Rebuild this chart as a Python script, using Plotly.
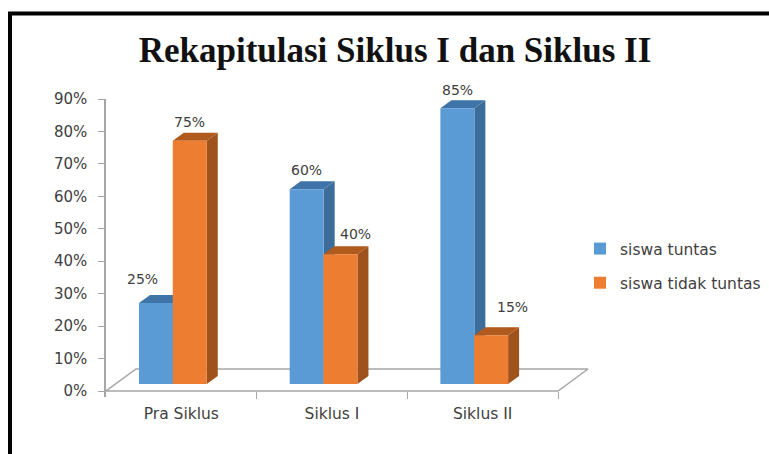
import plotly.graph_objects as go

categories = ["Pra Siklus", "Siklus I", "Siklus II"]
tuntas = [25, 60, 85]
tidak_tuntas = [75, 40, 15]
y_ticks = [0, 10, 20, 30, 40, 50, 60, 70, 80, 90]
y_tick_labels = ["0%", "10%", "20%", "30%", "40%", "50%", "60%", "70%", "80%", "90%"]

W, H = 769, 454
TEXT = "#404040"
GRID = "#a6a6a6"
SANS = "DejaVu Sans"

# pixel frame of the value axis and the category axis
x0_px, unit_px = 106, 150.67
y0_px, y90_px = 391, 99
per_pct = (y0_px - y90_px) / 90
x_end = 3.25
y_low = -2

# pseudo-3D geometry, in data units
lift = 7 / per_pct
depth_x = 11 / unit_px
depth_y = 8 / per_pct
bar_w = 34 / unit_px
floor_dx = 30 / unit_px
floor_dy = 22 / per_pct
centers_a = [i + 0.332 for i in range(3)]
centers_b = [i + 0.556 for i in range(3)]

x_dom = [x0_px / W, (x0_px + x_end * unit_px) / W]
y_dom = [1 - (y0_px - y_low * per_pct) / H, 1 - y90_px / H]


def depth_faces(centers, values):
    side_x, side_y, top_x, top_y = [], [], [], []
    for c, v in zip(centers, values):
        right, left, high = c + bar_w / 2, c - bar_w / 2, v + lift
        side_x += [right, right + depth_x, right + depth_x, right, right, None]
        side_y += [lift, lift + depth_y, high + depth_y, high, lift, None]
        top_x += [left, left + depth_x, right + depth_x, right, left, None]
        top_y += [high, high + depth_y, high + depth_y, high, high, None]
    return side_x, side_y, top_x, top_y


fig = go.Figure()

# floor outline behind the bars
fig.add_trace(go.Scatter(
    x=[0, floor_dx, 3 + floor_dx, 3, 0],
    y=[0, floor_dy, floor_dy, 0, 0],
    mode="lines", line=dict(color=GRID, width=1.5),
    showlegend=False, hoverinfo="skip",
))

for centers, values, side, top in [
    (centers_a, tuntas, "#3c6c99", "#3f74a8"),
    (centers_b, tidak_tuntas, "#a0521c", "#b05a1e"),
]:
    sx, sy, tx, ty = depth_faces(centers, values)
    for fx, fy, colour in [(sx, sy, side), (tx, ty, top)]:
        fig.add_trace(go.Scatter(
            x=fx, y=fy, mode="lines", fill="toself", fillcolor=colour,
            line=dict(width=0, color=colour), showlegend=False, hoverinfo="skip",
        ))

# front faces sit on an overlaid pair of axes so they cover the depth faces
for name, centers, values, colour in [
    ("siswa tuntas", centers_a, tuntas, "#5b9bd5"),
    ("siswa tidak tuntas", centers_b, tidak_tuntas, "#ed7d31"),
]:
    fig.add_trace(go.Bar(
        x=centers, y=values, base=lift, width=bar_w, name=name,
        marker=dict(color=colour, line=dict(width=0)),
        xaxis="x2", yaxis="y2", legendgroup=name,
    ))

# value labels, nudged clear of the neighbouring bars
label_shift = [(-14, 24), (0, 19), (0, 19), (15, 20), (0, 18), (21, 28)]
points = [
    (centers_a[0], tuntas[0]), (centers_b[0], tidak_tuntas[0]),
    (centers_a[1], tuntas[1]), (centers_b[1], tidak_tuntas[1]),
    (centers_a[2], tuntas[2]), (centers_b[2], tidak_tuntas[2]),
]
annotations = [
    dict(x=px, y=v + lift, xref="x", yref="y", text=f"{v}%", showarrow=False,
         xshift=sx, yshift=sy, xanchor="center", yanchor="middle",
         font=dict(family=SANS, size=14, color=TEXT))
    for (px, v), (sx, sy) in zip(points, label_shift)
]

fig.update_layout(
    width=W, height=H, margin=dict(l=0, r=0, t=0, b=0, autoexpand=False),
    paper_bgcolor="white", plot_bgcolor="rgba(0,0,0,0)",
    barmode="overlay",
    title=dict(
        text="<b>Rekapitulasi Siklus I dan Siklus II</b>",
        x=395 / W, xanchor="center", y=1 - 50 / H, yanchor="middle",
        font=dict(family="Liberation Serif", size=35, color="#111111"),
    ),
    xaxis=dict(
        domain=x_dom, range=[0, x_end], anchor="free", position=1 - y0_px / H,
        showgrid=False, zeroline=False, showline=False,
        tickmode="array", tickvals=[0.5, 1.5, 2.5], ticktext=categories,
        ticks="", ticklabelstandoff=11,
        tickfont=dict(family=SANS, size=15.5, color=TEXT),
        minor=dict(tickmode="array", tickvals=[1, 2, 3], ticks="outside",
                   ticklen=7, tickcolor=GRID, tickwidth=1),
    ),
    yaxis=dict(
        domain=y_dom, range=[y_low, 90], anchor="x",
        showgrid=False, zeroline=False, showline=True,
        linecolor=GRID, linewidth=1.5,
        tickmode="array", tickvals=y_ticks, ticktext=y_tick_labels,
        ticks="outside", ticklen=6, tickcolor=GRID, tickwidth=1, ticklabelstandoff=8,
        tickfont=dict(family=SANS, size=15, color=TEXT),
    ),
    xaxis2=dict(domain=x_dom, range=[0, x_end], overlaying="x", anchor="y2", visible=False),
    yaxis2=dict(domain=y_dom, range=[y_low, 90], overlaying="y", anchor="x2", visible=False),
    legend=dict(
        x=580 / W, xanchor="left", y=1 - 232 / H, yanchor="top",
        font=dict(family=SANS, size=15.5, color=TEXT),
        tracegroupgap=11, bgcolor="rgba(0,0,0,0)",
    ),
    annotations=annotations,
    shapes=[
        # black frame: top and left rules running off the page
        dict(type="line", xref="paper", yref="paper", x0=8 / W, x1=1, y0=1 - 13.5 / H, y1=1 - 13.5 / H,
             line=dict(color="black", width=4)),
        dict(type="line", xref="paper", yref="paper", x0=10 / W, x1=10 / W, y0=0, y1=1 - 12 / H,
             line=dict(color="black", width=4)),
    ],
)

fig.write_html("out.html")
